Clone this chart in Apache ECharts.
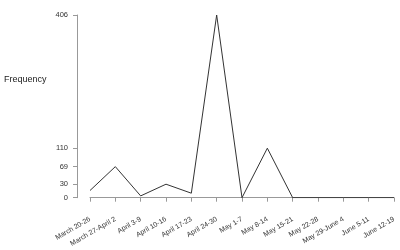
<!DOCTYPE html>
<html><head><meta charset="utf-8">
<script src="https://cdn.jsdelivr.net/npm/echarts@6/dist/echarts.min.js"></script>
<style>html,body{margin:0;padding:0;background:#fff}#c{width:400px;height:250px}</style>
</head><body><div id="c"></div>
<script>
const categories = ["March 20-26","March 27-April 2","April 3-9","April 10-16","April 17-23","April 24-30","May 1-7","May 8-14","May 15-21","May 22-28","May 29-June 4","June 5-11","June 12-19"];
const frequency = [16, 69, 4, 30, 10, 406, 0, 110, 0, 0, 0, 0, 0];
const yTicks = [0, 30, 69, 110, 406];

const chart = echarts.init(document.getElementById('c'), null, {renderer: 'canvas'});
chart.setOption({
  animation: false,
  grid: {left: 90, right: 6, top: 15, bottom: 52.3},
  graphic: [{type: 'text', left: 4, top: 75, style: {text: 'Frequency', font: '9px "Liberation Sans", Arial', fill: '#222'}}],
  xAxis: {
    type: 'category', data: categories, boundaryGap: false, offset: 13,
    axisLine: {lineStyle: {color: '#999', width: 1}},
    axisTick: {show: true, length: 4, lineStyle: {color: '#999'}, alignWithLabel: true},
    axisLabel: {interval: 0, rotate: 30, fontSize: 7, color: '#333', fontFamily: '"Liberation Sans", Arial', margin: 8},
    splitLine: {show: false}
  },
  yAxis: {
    type: 'value', min: 0, max: 406, offset: 13,
    axisLine: {show: true, lineStyle: {color: '#999', width: 1}},
    axisTick: {show: true, length: 4, lineStyle: {color: '#999'}, customValues: yTicks},
    axisLabel: {fontSize: 7.5, color: '#333', fontFamily: '"Liberation Sans", Arial', margin: 9, customValues: yTicks},
    splitLine: {show: false}
  },
  series: [{
    type: 'line', data: frequency, symbol: 'none',
    lineStyle: {color: '#333', width: 1}
  }]
});
</script></body></html>
